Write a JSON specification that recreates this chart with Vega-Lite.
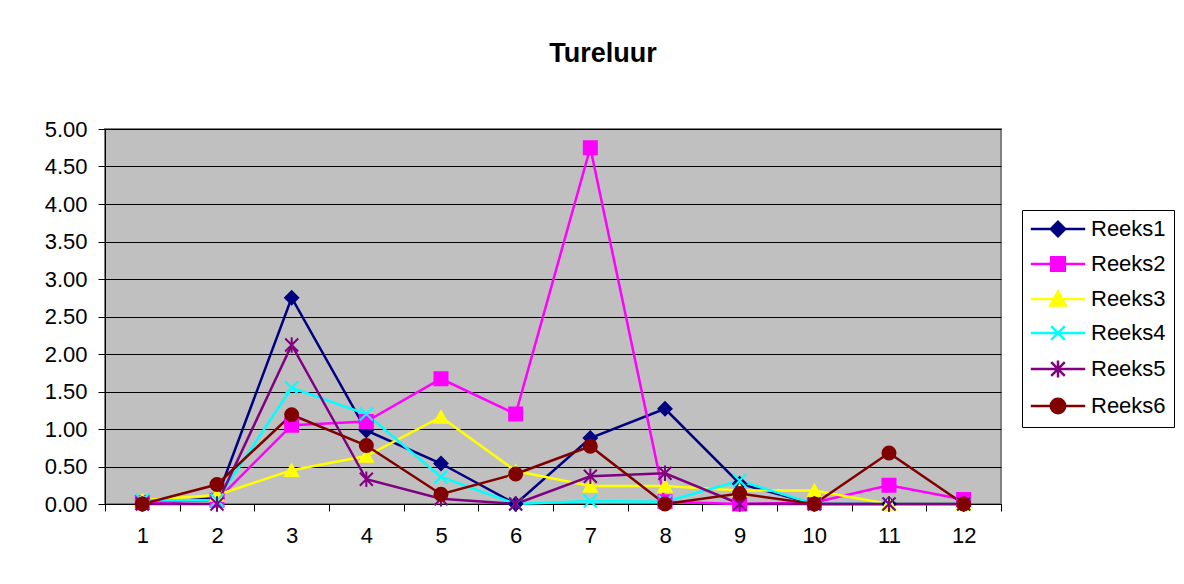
{
  "$schema": "https://vega.github.io/schema/vega-lite/v6.json",
  "width": 896,
  "height": 375,
  "autosize": {"type": "none"},
  "padding": {"left": 105, "top": 129, "right": 183, "bottom": 80},
  "background": "white",
  "title": {"text": "Tureluur", "font": "Liberation Sans", "fontSize": 27, "fontWeight": "bold", "color": "black", "anchor": "middle", "dx": 50, "offset": 50},
  "data": {"values": [
    {"x": 1, "series": "Reeks1", "value": 0}, {"x": 2, "series": "Reeks1", "value": 0.08}, {"x": 3, "series": "Reeks1", "value": 2.75}, {"x": 4, "series": "Reeks1", "value": 0.98}, {"x": 5, "series": "Reeks1", "value": 0.54}, {"x": 6, "series": "Reeks1", "value": 0}, {"x": 7, "series": "Reeks1", "value": 0.88}, {"x": 8, "series": "Reeks1", "value": 1.27}, {"x": 9, "series": "Reeks1", "value": 0.27}, {"x": 10, "series": "Reeks1", "value": 0}, {"x": 11, "series": "Reeks1", "value": 0}, {"x": 12, "series": "Reeks1", "value": 0},
    {"x": 1, "series": "Reeks2", "value": 0.02}, {"x": 2, "series": "Reeks2", "value": 0.05}, {"x": 3, "series": "Reeks2", "value": 1.05}, {"x": 4, "series": "Reeks2", "value": 1.1}, {"x": 5, "series": "Reeks2", "value": 1.67}, {"x": 6, "series": "Reeks2", "value": 1.2}, {"x": 7, "series": "Reeks2", "value": 4.75}, {"x": 8, "series": "Reeks2", "value": 0.03}, {"x": 9, "series": "Reeks2", "value": 0}, {"x": 10, "series": "Reeks2", "value": 0.02}, {"x": 11, "series": "Reeks2", "value": 0.25}, {"x": 12, "series": "Reeks2", "value": 0.06},
    {"x": 1, "series": "Reeks3", "value": 0.05}, {"x": 2, "series": "Reeks3", "value": 0.12}, {"x": 3, "series": "Reeks3", "value": 0.45}, {"x": 4, "series": "Reeks3", "value": 0.64}, {"x": 5, "series": "Reeks3", "value": 1.16}, {"x": 6, "series": "Reeks3", "value": 0.44}, {"x": 7, "series": "Reeks3", "value": 0.24}, {"x": 8, "series": "Reeks3", "value": 0.24}, {"x": 9, "series": "Reeks3", "value": 0.18}, {"x": 10, "series": "Reeks3", "value": 0.18}, {"x": 11, "series": "Reeks3", "value": 0}, {"x": 12, "series": "Reeks3", "value": 0},
    {"x": 1, "series": "Reeks4", "value": 0.05}, {"x": 2, "series": "Reeks4", "value": 0.05}, {"x": 3, "series": "Reeks4", "value": 1.55}, {"x": 4, "series": "Reeks4", "value": 1.2}, {"x": 5, "series": "Reeks4", "value": 0.36}, {"x": 6, "series": "Reeks4", "value": 0}, {"x": 7, "series": "Reeks4", "value": 0.04}, {"x": 8, "series": "Reeks4", "value": 0.03}, {"x": 9, "series": "Reeks4", "value": 0.31}, {"x": 10, "series": "Reeks4", "value": 0}, {"x": 11, "series": "Reeks4", "value": 0}, {"x": 12, "series": "Reeks4", "value": 0},
    {"x": 1, "series": "Reeks5", "value": 0}, {"x": 2, "series": "Reeks5", "value": 0}, {"x": 3, "series": "Reeks5", "value": 2.12}, {"x": 4, "series": "Reeks5", "value": 0.33}, {"x": 5, "series": "Reeks5", "value": 0.07}, {"x": 6, "series": "Reeks5", "value": 0}, {"x": 7, "series": "Reeks5", "value": 0.37}, {"x": 8, "series": "Reeks5", "value": 0.41}, {"x": 9, "series": "Reeks5", "value": 0}, {"x": 10, "series": "Reeks5", "value": 0}, {"x": 11, "series": "Reeks5", "value": 0}, {"x": 12, "series": "Reeks5", "value": 0},
    {"x": 1, "series": "Reeks6", "value": 0}, {"x": 2, "series": "Reeks6", "value": 0.26}, {"x": 3, "series": "Reeks6", "value": 1.19}, {"x": 4, "series": "Reeks6", "value": 0.78}, {"x": 5, "series": "Reeks6", "value": 0.13}, {"x": 6, "series": "Reeks6", "value": 0.4}, {"x": 7, "series": "Reeks6", "value": 0.77}, {"x": 8, "series": "Reeks6", "value": 0}, {"x": 9, "series": "Reeks6", "value": 0.14}, {"x": 10, "series": "Reeks6", "value": 0}, {"x": 11, "series": "Reeks6", "value": 0.68}, {"x": 12, "series": "Reeks6", "value": 0}
  ]},
  "encoding": {
    "x": {
      "field": "x", "type": "ordinal",
      "scale": {"type": "band", "paddingInner": 0, "paddingOuter": 0},
      "axis": {"title": null, "labelAngle": 0, "tickBand": "extent", "domainColor": "black", "tickColor": "black", "tickSize": 7, "labelPadding": 14, "labelFont": "Liberation Sans", "labelFontSize": 22, "labelColor": "black", "grid": false}
    },
    "y": {
      "field": "value", "type": "quantitative",
      "scale": {"domain": [0, 5], "nice": false},
      "axis": {"title": null, "values": [0, 0.5, 1, 1.5, 2, 2.5, 3, 3.5, 4, 4.5, 5], "format": ".2f", "domainColor": "black", "tickColor": "black", "tickSize": 7, "labelPadding": 11, "labelFont": "Liberation Sans", "labelFontSize": 22, "labelColor": "black", "grid": true, "gridColor": "black", "gridWidth": 1, "gridOpacity": 1}
    }
  },
  "layer": [
    {
      "mark": {"type": "line", "strokeWidth": 2.5},
      "encoding": {
        "color": {"field": "series", "type": "nominal", "legend": null,
          "scale": {"domain": ["Reeks1", "Reeks2", "Reeks3", "Reeks4", "Reeks5", "Reeks6"], "range": ["#000080", "#FF00FF", "#FFFF00", "#00FFFF", "#800080", "#800000"]}}
      }
    },
    {
      "mark": {"type": "point", "filled": true, "size": 170, "strokeWidth": 2, "opacity": 1},
      "encoding": {
        "color": {"field": "series", "type": "nominal", "legend": null,
          "scale": {"domain": ["Reeks1", "Reeks2", "Reeks3", "Reeks4", "Reeks5", "Reeks6"], "range": ["#000080", "#FF00FF", "#FFFF00", "#00FFFF", "#800080", "#800000"]}},
        "shape": {"field": "series", "type": "nominal", "legend": null,
          "scale": {"domain": ["Reeks1", "Reeks2", "Reeks3", "Reeks4", "Reeks5", "Reeks6"], "range": ["diamond", "square", "triangle-up", "M-1,-1L1,1M-1,1L1,-1", "M-1,-1L1,1M-1,1L1,-1M0,-1.2L0,1.2", "circle"]}},
        "stroke": {"field": "series", "type": "nominal", "legend": null,
          "scale": {"domain": ["Reeks1", "Reeks2", "Reeks3", "Reeks4", "Reeks5", "Reeks6"], "range": ["#000080", "#FF00FF", "#FFFF00", "#00FFFF", "#800080", "#800000"]}}
      }
    },
    {
      "transform": [{"filter": "datum.value < 0"}],
      "mark": {"type": "point", "filled": true, "size": 289, "strokeWidth": 2.5, "opacity": 1},
      "encoding": {
        "color": {"field": "series", "type": "nominal",
          "scale": {"domain": ["Reeks1", "Reeks2", "Reeks3", "Reeks4", "Reeks5", "Reeks6"], "range": ["#000080", "#FF00FF", "#FFFF00", "#00FFFF", "#800080", "#800000"]},
          "legend": {"orient": "none", "legendX": 917, "legendY": 81, "direction": "vertical", "title": null, "strokeColor": "black", "fillColor": "white", "padding": 8, "labelFont": "Liberation Sans", "labelFontSize": 22, "labelColor": "black", "symbolSize": 289, "symbolStrokeWidth": 2.5, "symbolOpacity": 1, "symbolOffset": 17, "labelOffset": 22, "rowPadding": 10}},
        "stroke": {"field": "series", "type": "nominal",
          "scale": {"domain": ["Reeks1", "Reeks2", "Reeks3", "Reeks4", "Reeks5", "Reeks6"], "range": ["#000080", "#FF00FF", "#FFFF00", "#00FFFF", "#800080", "#800000"]},
          "legend": {"orient": "none", "legendX": 917, "legendY": 81, "direction": "vertical", "title": null, "strokeColor": "black", "fillColor": "white", "padding": 8, "labelFont": "Liberation Sans", "labelFontSize": 22, "labelColor": "black", "symbolSize": 289, "symbolStrokeWidth": 2.5, "symbolOpacity": 1, "symbolOffset": 17, "labelOffset": 22, "rowPadding": 10}},
        "shape": {"field": "series", "type": "nominal",
          "scale": {"domain": ["Reeks1", "Reeks2", "Reeks3", "Reeks4", "Reeks5", "Reeks6"], "range": ["M-3.2,0L3.2,0M0,-0.85L0.85,0L0,0.85L-0.85,0Z", "M-3.2,0L3.2,0M-0.8,-0.8L0.8,-0.8L0.8,0.8L-0.8,0.8Z", "M-3.2,0L3.2,0M0,-0.9L0.9,0.75L-0.9,0.75Z", "M-3.2,0L3.2,0M-0.8,-0.8L0.8,0.8M-0.8,0.8L0.8,-0.8", "M-3.2,0L3.2,0M-0.8,-0.8L0.8,0.8M-0.8,0.8L0.8,-0.8M0,-1L0,1", "M-3.2,0L3.2,0M0.85,0A0.85,0.85,0,1,1,-0.85,0A0.85,0.85,0,1,1,0.85,0Z"]},
          "legend": {"orient": "none", "legendX": 917, "legendY": 81, "direction": "vertical", "title": null, "strokeColor": "black", "fillColor": "white", "padding": 8, "labelFont": "Liberation Sans", "labelFontSize": 22, "labelColor": "black", "symbolSize": 289, "symbolStrokeWidth": 2.5, "symbolOpacity": 1, "symbolOffset": 17, "labelOffset": 22, "rowPadding": 10}}
      }
    }
  ],
  "resolve": {"scale": {"color": "independent", "stroke": "independent", "shape": "independent"}},
  "config": {
    "view": {"fill": "#C0C0C0", "stroke": "#808080", "strokeWidth": 2}
  }
}
